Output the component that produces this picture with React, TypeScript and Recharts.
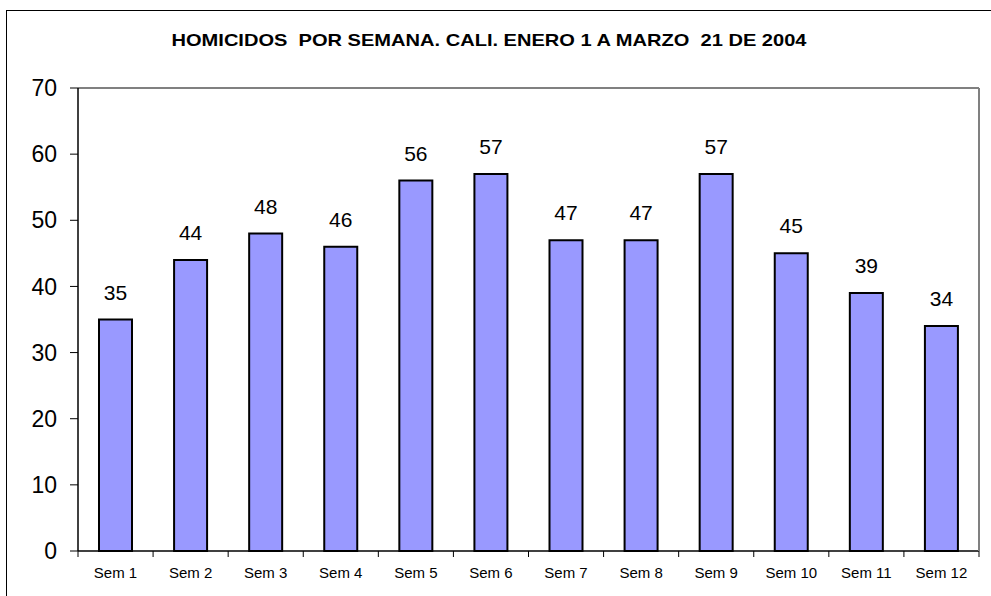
import { BarChart, Bar, XAxis, YAxis, LabelList } from "recharts";

const WEEKS = [
  "Sem 1",
  "Sem 2",
  "Sem 3",
  "Sem 4",
  "Sem 5",
  "Sem 6",
  "Sem 7",
  "Sem 8",
  "Sem 9",
  "Sem 10",
  "Sem 11",
  "Sem 12",
];
const HOMICIDES = [35, 44, 48, 46, 56, 57, 47, 47, 57, 45, 39, 34];
const Y_TICKS = [0, 10, 20, 30, 40, 50, 60, 70];
// category boundaries, Excel puts the x tick marks between the bars
const X_BOUNDARIES = [0, 1, 2, 3, 4, 5, 6, 7, 8, 9, 10, 11, 12];

const TITLE = "HOMICIDOS  POR SEMANA. CALI. ENERO 1 A MARZO  21 DE 2004";
const FONT = "'Liberation Sans', Arial, sans-serif";

const data = WEEKS.map((name, i) => ({ name, pos: i + 0.5, value: HOMICIDES[i] }));

export default function App() {
  return (
    <div
      style={{
        position: "absolute",
        left: 0,
        top: 0,
        width: 991,
        height: 596,
        background: "#fff",
        fontFamily: FONT,
        overflow: "hidden",
      }}
    >
      {/* chart area frame, only left and top edges are visible */}
      <div
        style={{
          position: "absolute",
          left: 6,
          top: 10,
          width: 991,
          height: 600,
          borderLeft: "1px solid #000",
          borderTop: "1px solid #000",
        }}
      />
      <div
        style={{
          position: "absolute",
          left: 0,
          top: 31,
          width: 978,
          textAlign: "center",
          fontSize: 17,
          fontWeight: "bold",
          whiteSpace: "pre",
          lineHeight: "20px",
          transform: "scaleX(1.18)",
          transformOrigin: "489px 0",
        }}
      >
        {TITLE}
      </div>
      <BarChart
        width={991}
        height={596}
        data={data}
        margin={{ top: 87, right: 11, bottom: 15, left: 0 }}
        barCategoryGap={0}
      >
        <XAxis
          xAxisId="top"
          orientation="top"
          dataKey="name"
          height={1}
          tick={false}
          tickLine={false}
          axisLine={{ stroke: "#808080", strokeWidth: 2 }}
        />
        <XAxis
          xAxisId="bounds"
          type="number"
          dataKey="pos"
          domain={[0, 12]}
          allowDataOverflow
          ticks={X_BOUNDARIES}
          interval={0}
          height={1}
          tickFormatter={() => ""}
          tickSize={6}
          tickLine={{ stroke: "#000", strokeWidth: 1 }}
          axisLine={{ stroke: "#000", strokeWidth: 1.5 }}
        />
        <XAxis
          xAxisId="cat"
          dataKey="name"
          height={29}
          tickLine={false}
          tickSize={6}
          tickMargin={9}
          axisLine={false}
          tick={{ fontSize: 15, fill: "#000", fontFamily: FONT }}
          interval={0}
        />
        <YAxis
          yAxisId="right"
          orientation="right"
          width={1}
          tick={false}
          tickLine={false}
          axisLine={{ stroke: "#808080", strokeWidth: 2 }}
        />
        <YAxis
          domain={[0, 70]}
          ticks={Y_TICKS}
          width={78}
          tickSize={8}
          tickMargin={13}
          interval={0}
          tickLine={{ stroke: "#000" }}
          axisLine={{ stroke: "#000", strokeWidth: 1.5 }}
          tick={{ fontSize: 23, fill: "#000", fontFamily: FONT }}
        />
        <Bar
          xAxisId="cat"
          dataKey="value"
          fill="#9999FF"
          stroke="#000"
          strokeWidth={2}
          barSize={33}
          isAnimationActive={false}
        >
          <LabelList
            dataKey="value"
            position="top"
            offset={20}
            style={{ fontSize: 21, fill: "#000", fontFamily: FONT }}
          />
        </Bar>
      </BarChart>
    </div>
  );
}
